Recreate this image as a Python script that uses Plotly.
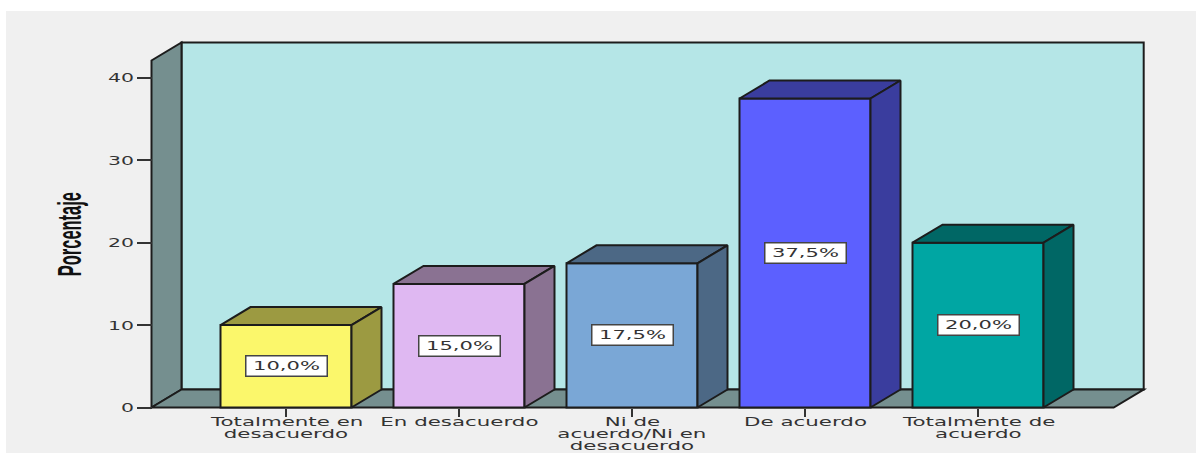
import plotly.graph_objects as go

categories = ["Totalmente en desacuerdo", "En desacuerdo", "Ni de acuerdo/Ni en desacuerdo",
              "De acuerdo", "Totalmente de acuerdo"]
label_lines = [["Totalmente en", "desacuerdo"],
               ["En desacuerdo"],
               ["Ni de", "acuerdo/Ni en", "desacuerdo"],
               ["De acuerdo"],
               ["Totalmente de", "acuerdo"]]
percent = [10.0, 15.0, 17.5, 37.5, 20.0]
y_ticks = [0, 10, 20, 30, 40]
front_colors = ["#FBF76B", "#DFB8F2", "#7AA7D6", "#5C60FF", "#00A6A3"]
shade_colors = ["#9C9A41", "#8A7292", "#4C6885", "#3A3D9E", "#006765"]

W, H = 1199, 453
EDGE = "#1c1c1c"
TEXT = "#333333"
FONT = "DejaVu Sans"

# pixel scale
cat_px, val_px = 173.0, 8.24
x0_px, y0_px = 286.0, 407.5
left_px, right_px, top_px = 151.5, 1143.7, 42.5
depth_x_px, depth_y_px = 30.0, 18.0

dx = depth_x_px / cat_px
dy = depth_y_px / val_px
bar_width = 131.0 / cat_px
x_left = (left_px - x0_px) / cat_px
x_right = (right_px - x0_px) / cat_px
y_top = (y0_px - top_px) / val_px
positions = list(range(len(categories)))

# a few px of slack so the edge strokes are not clipped
pad = 3.0
dom_left, dom_right = left_px - pad, right_px + pad
dom_top, dom_bottom = top_px - pad, y0_px + pad


def path(points):
    return "M " + " L ".join(f"{x},{y}" for x, y in points) + " Z"


def wall(points, color):
    return dict(type="path", xref="x", yref="y", layer="below", path=path(points),
                fillcolor=color, line=dict(color=EDGE, width=2))


shapes = [
    # panel behind the chart
    dict(type="rect", xref="paper", yref="paper", layer="below", x0=6 / W, x1=1196 / W, y0=0, y1=1 - 11 / H,
         fillcolor="#F0F0F0", line=dict(width=0)),
    wall([(x_left + dx, dy), (x_right, dy), (x_right, y_top), (x_left + dx, y_top)], "#B5E6E7"),
    wall([(x_left, 0), (x_left + dx, dy), (x_left + dx, y_top), (x_left, y_top - dy)], "#758F8F"),
    wall([(x_left, 0), (x_right - dx, 0), (x_right, dy), (x_left + dx, dy)], "#758F8F"),
]

fig = go.Figure()
fig.add_trace(go.Bar(x=positions, y=percent, width=bar_width,
                     marker=dict(color=front_colors, line=dict(color=EDGE, width=2))))

for pos, val, shade in zip(positions, percent, shade_colors):
    xa = pos - bar_width / 2
    xb = pos + bar_width / 2
    top_x = [xa, xb, xb + dx, xa + dx, xa]
    top_y = [val, val, val + dy, val + dy, val]
    side_x = [xb, xb + dx, xb + dx, xb, xb]
    side_y = [0, dy, val + dy, val, 0]
    for px_, py_ in ((top_x, top_y), (side_x, side_y)):
        fig.add_trace(go.Scatter(x=px_, y=py_, mode="lines", fill="toself", fillcolor=shade,
                                 line=dict(color=EDGE, width=2), hoverinfo="skip"))

annotations = []
for pos, val in zip(positions, percent):
    annotations.append(dict(x=pos, y=val / 2, xref="x", yref="y", showarrow=False,
                            text=f"{val:.1f}%".replace(".", ","),
                            font=dict(family=FONT, size=13, color=TEXT),
                            bgcolor="white", bordercolor="#444444", borderwidth=1.5,
                            width=78, height=17, borderpad=1))

for pos, lines in zip(positions, label_lines):
    for i, line in enumerate(lines):
        annotations.append(dict(x=pos, y=1 - (421.5 + 12.2 * i) / H, xref="x", yref="paper", showarrow=False,
                                xanchor="center", yanchor="middle", borderpad=0,
                                text=line, font=dict(family=FONT, size=12, color=TEXT)))

annotations.append(dict(x=69 / W, y=1 - 234 / H, xref="paper", yref="paper", showarrow=False, textangle=-90,
                        xanchor="center", yanchor="middle",
                        text="<b>Porcentaje</b>",
                        font=dict(family="Liberation Sans", size=16, color="#111111")))

fig.update_layout(
    width=W,
    height=H,
    margin=dict(l=0, r=0, t=0, b=0),
    paper_bgcolor="white",
    plot_bgcolor="rgba(0,0,0,0)",
    showlegend=False,
    shapes=shapes,
    annotations=annotations,
    xaxis=dict(domain=[dom_left / W, dom_right / W],
               range=[(dom_left - x0_px) / cat_px, (dom_right - x0_px) / cat_px],
               anchor="free", position=1 - y0_px / H, automargin=False,
               tickmode="array", tickvals=positions, showticklabels=False,
               ticks="outside", ticklen=8, tickwidth=2, tickcolor="#333333",
               showgrid=False, zeroline=False, showline=False),
    yaxis=dict(domain=[1 - dom_bottom / H, 1 - dom_top / H],
               range=[(y0_px - dom_bottom) / val_px, (y0_px - dom_top) / val_px],
               anchor="free", position=left_px / W, automargin=False,
               tickmode="array", tickvals=y_ticks, ticks="outside", ticklen=15, tickwidth=2, tickcolor="#333333",
               tickfont=dict(family=FONT, size=13, color=TEXT),
               showgrid=False, zeroline=False, showline=False),
)

# the reference is a horizontally stretched screenshot, so widen the text the same way
post_script = """
document.body.style.margin = '0';
function stretch(el, sx, sy, anchorRight) {
  var b = el.getBBox();
  var cx = anchorRight ? b.x + b.width : b.x + b.width / 2;
  var cy = b.y + b.height / 2;
  var old = el.getAttribute('transform') || '';
  el.setAttribute('transform', old + ' translate(' + cx + ',' + cy + ') scale(' + sx + ',' + sy + ') translate(' + (-cx) + ',' + (-cy) + ')');
}
document.querySelectorAll('.ytick text').forEach(function (t) { stretch(t, 1.57, 1, true); });
document.querySelectorAll('text.annotation-text').forEach(function (t) {
  var txt = t.textContent;
  if (txt === 'Porcentaje') { stretch(t, 1.03, 2.05, false); }
  else if (txt.indexOf('%') >= 0) { stretch(t, 1.62, 1, false); }
  else { stretch(t, 1.78, 1, false); }
});
"""

fig.write_html("out.html", post_script=post_script, config=dict(displayModeBar=False))
